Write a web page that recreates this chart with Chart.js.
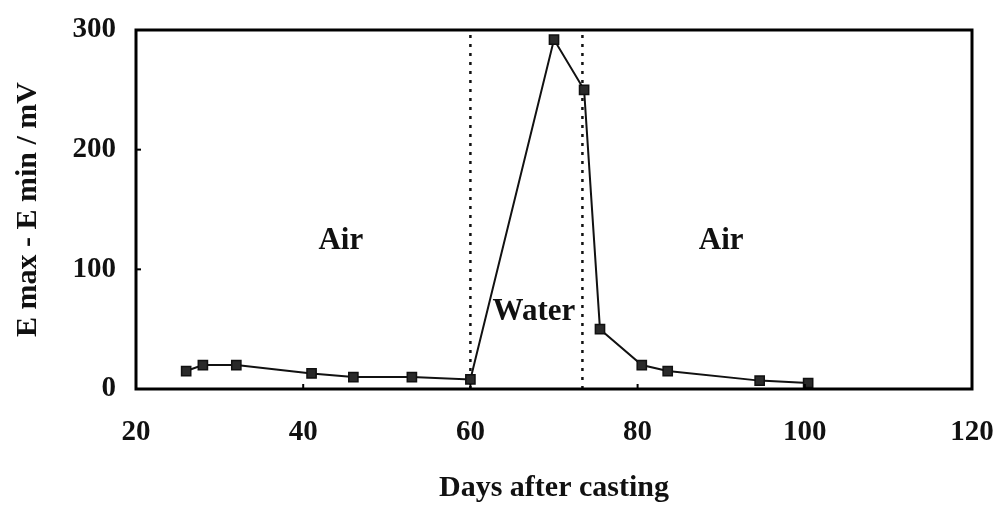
<!DOCTYPE html>
<html lang="en">
<head>
    <meta charset="UTF-8">
    <title>E max - E min vs days</title>
    <script src="https://cdn.jsdelivr.net/npm/chart.js"></script>
    <style>
        html, body { margin: 0; padding: 0; background: #fff; }
        .chart-box { width: 997px; height: 506px; }
    </style>
</head>
<body>
    <div class="chart-box">
        <canvas id="grafico"></canvas>
    </div>

    <script>
        // values
        const dias = [26, 28, 32, 41, 46, 53, 60, 70, 73.6, 75.5, 80.5, 83.6, 94.6, 100.4];
        const deltaE = [15, 20, 20, 13, 10, 10, 8, 292, 250, 50, 20, 15, 7, 5];
        const xTicks = [20, 40, 60, 80, 100, 120];
        const yTicks = [0, 100, 200, 300];
        const fronteiras = [60, 73.4];
        const regioes = ['Air', 'Water', 'Air'];
        const regiaoX = [44.5, 67.6, 90];
        const regiaoY = [124, 64, 124];

        const fonte = '"Liberation Serif", "Times New Roman", serif';

        const pontos = dias.map((d, i) => ({ x: d, y: deltaE[i] }));

        const linhasDatasets = fronteiras.map(f => ({
            data: [{ x: f, y: 0 }, { x: f, y: 300 }],
            borderColor: '#111',
            borderWidth: 2.5,
            borderDash: [3, 6],
            pointRadius: 0,
            showLine: true,
            order: 2
        }));

        const molduraPlugin = {
            id: 'moldura',
            afterDatasetsDraw(chart) {
                const { ctx, chartArea: a, scales } = chart;
                ctx.save();
                ctx.strokeStyle = '#000';
                ctx.lineWidth = 3;
                ctx.strokeRect(a.left, a.top, a.right - a.left, a.bottom - a.top);
                // small inner ticks
                ctx.lineWidth = 2;
                yTicks.forEach(v => {
                    const py = scales.y.getPixelForValue(v);
                    ctx.beginPath();
                    ctx.moveTo(a.left, py);
                    ctx.lineTo(a.left + 5, py);
                    ctx.stroke();
                });
                xTicks.forEach(v => {
                    const px = scales.x.getPixelForValue(v);
                    ctx.beginPath();
                    ctx.moveTo(px, a.bottom);
                    ctx.lineTo(px, a.bottom - 5);
                    ctx.stroke();
                });
                ctx.fillStyle = '#111';
                ctx.font = 'bold 31px ' + fonte;
                ctx.textAlign = 'center';
                ctx.textBaseline = 'middle';
                regioes.forEach((txt, i) => {
                    const px = scales.x.getPixelForValue(regiaoX[i]);
                    const py = scales.y.getPixelForValue(regiaoY[i]);
                    ctx.fillText(txt, px, py);
                });
                ctx.restore();
            }
        };

        new Chart(document.getElementById('grafico'), {
            type: 'scatter',
            data: {
                datasets: [{
                    data: pontos,
                    showLine: true,
                    borderColor: '#111',
                    borderWidth: 2,
                    pointStyle: 'rect',
                    pointRadius: 6.5,
                    pointBackgroundColor: '#2a2a2a',
                    pointBorderColor: '#111',
                    pointBorderWidth: 1.5,
                    order: 1
                }, ...linhasDatasets]
            },
            options: {
                responsive: true,
                maintainAspectRatio: false,
                animation: false,
                layout: { padding: { top: 30, right: 25, left: 0, bottom: 0 } },
                plugins: {
                    legend: { display: false },
                    tooltip: { enabled: false }
                },
                scales: {
                    x: {
                        type: 'linear',
                        min: 20,
                        max: 120,
                        afterBuildTicks: s => { s.ticks = xTicks.map(v => ({ value: v })); },
                        afterFit: s => {
                            s.height = 506 - 389;
                            s.paddingLeft = 0;
                            s.paddingRight = 0;
                        },
                        grid: { display: false, drawTicks: false },
                        border: { display: false },
                        ticks: {
                            color: '#111',
                            padding: 26,
                            maxRotation: 0,
                            font: { family: fonte, size: 29, weight: 'bold' }
                        },
                        title: {
                            display: true,
                            text: 'Days after casting',
                            color: '#111',
                            padding: { top: 14, bottom: 0 },
                            font: { family: fonte, size: 30, weight: 'bold' }
                        }
                    },
                    y: {
                        type: 'linear',
                        min: 0,
                        max: 300,
                        afterBuildTicks: s => { s.ticks = yTicks.map(v => ({ value: v })); },
                        afterFit: s => {
                            s.width = 136;
                            s.paddingTop = 0;
                            s.paddingBottom = 0;
                        },
                        grid: { display: false, drawTicks: false },
                        border: { display: false },
                        ticks: {
                            color: '#111',
                            padding: 20,
                            font: { family: fonte, size: 29, weight: 'bold' }
                        },
                        title: {
                            display: true,
                            text: 'E max - E min / mV',
                            color: '#111',
                            padding: { top: 10, bottom: 0 },
                            font: { family: fonte, size: 30, weight: 'bold' }
                        }
                    }
                }
            },
            plugins: [molduraPlugin]
        });
    </script>
</body>
</html>
